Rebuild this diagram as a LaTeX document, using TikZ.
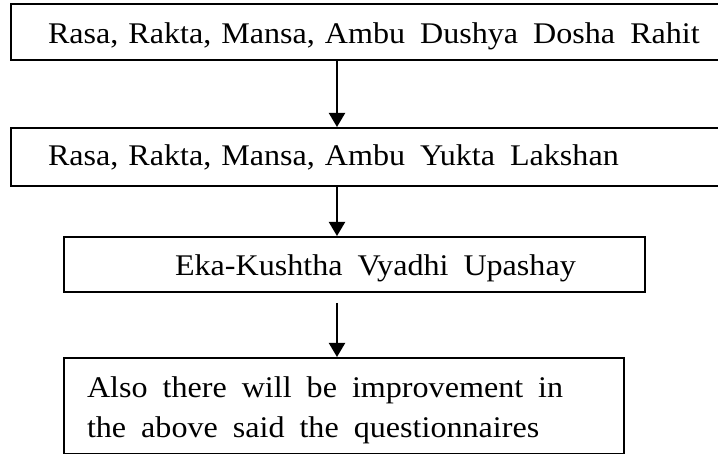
\documentclass[tikz,border=0pt]{standalone}
\usepackage{fontspec}
\setmainfont{Liberation Serif}[FakeStretch=1.07]
\usetikzlibrary{arrows.meta}
\newcommand\wgap{\hspace{15pt}}
\newcommand\vstrut[2]{\rule[-#2pt]{0pt}{\dimexpr#1pt+#2pt\relax}}
\begin{document}
\begin{tikzpicture}[x=1pt,y=-1pt,
  box/.style={draw=black, line width=2pt, anchor=north west, align=left,
    font=\fontsize{30}{40}\selectfont, inner ysep=0pt, inner xsep=0pt},
  arr/.style={line width=2pt, -{Triangle[length=14pt,width=16pt]}}]
\useasboundingbox (0,0) rectangle (718,454);
\clip (0,0) rectangle (718,454);
\node[box, minimum height=56pt, text width=750pt] (b1) at (10,3)
  {\vstrut{30}{6}\hspace*{37pt}Rasa, Rakta, Mansa, Ambu\wgap Dushya\wgap Dosha\wgap Rahit};
\node[box, minimum height=58pt, text width=750pt] (b2) at (10,127)
  {\vstrut{24}{6}\hspace*{37pt}Rasa, Rakta, Mansa, Ambu\wgap Yukta\wgap Lakshan};
\node[box, minimum height=55pt, text width=581pt] (b3) at (63,236)
  {\vstrut{29}{6}\hspace*{111pt}Eka-Kushtha\wgap Vyadhi\wgap Upashay};
\node[box, minimum height=96pt, text width=560pt] (b4) at (63,357)
  {\vstrut{30.5}{0}\hspace*{23pt}Also\wgap there\wgap will\wgap be\wgap improvement\wgap in\\
   \vstrut{0}{6.5}\hspace*{23pt}the\wgap above\wgap said\wgap the\wgap questionnaires};
\coordinate (ax) at (337,0);
\draw[arr] (ax |- b1.south) -- (ax |- b2.north);
\draw[arr] (ax |- b2.south) -- (ax |- b3.north);
\draw[arr] ([yshift=-10pt]ax |- b3.south) -- (ax |- b4.north);
\end{tikzpicture}
\end{document}
